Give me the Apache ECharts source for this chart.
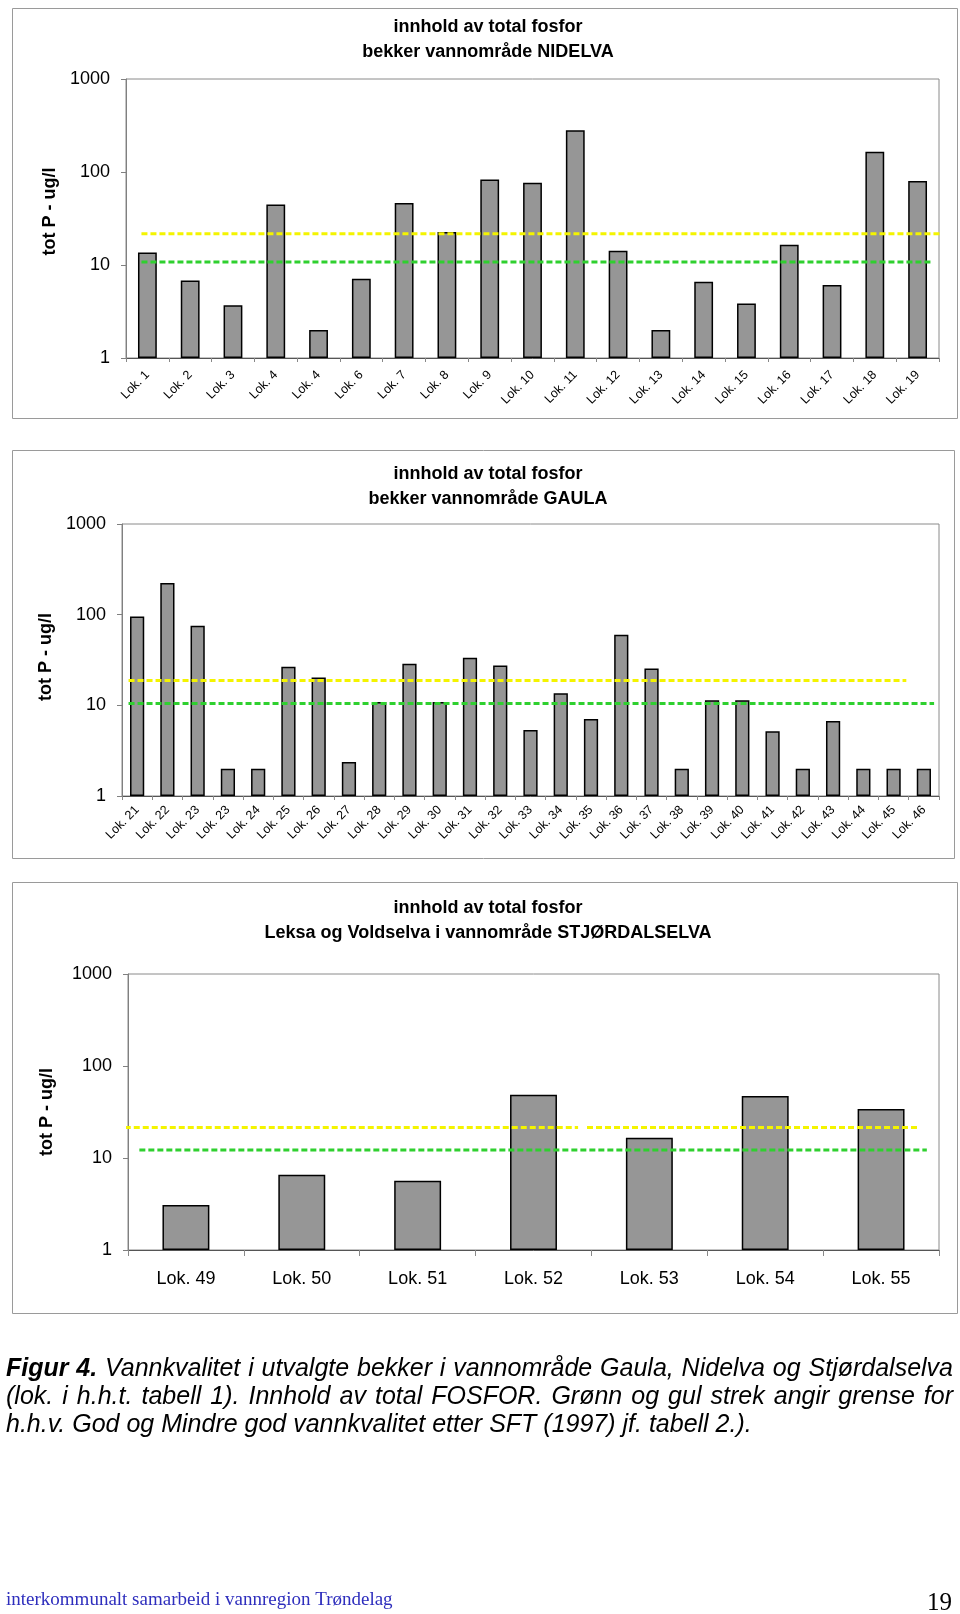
<!DOCTYPE html>
<html><head><meta charset="utf-8">
<script src="https://cdn.jsdelivr.net/npm/echarts@6/dist/echarts.min.js"></script>
<style>html,body{margin:0;padding:0;background:#fff}#c{width:960px;height:1614px}</style>
</head><body><div id="c"></div>
<script>
// ---------- data ----------
const nidCats = ['Lok. 1','Lok. 2','Lok. 3','Lok. 4','Lok. 4','Lok. 6','Lok. 7','Lok. 8','Lok. 9','Lok. 10','Lok. 11','Lok. 12','Lok. 13','Lok. 14','Lok. 15','Lok. 16','Lok. 17','Lok. 18','Lok. 19'];
const nidVals = [13.6, 6.8, 3.7, 44.7, 2.0, 7.1, 46.5, 22.6, 83, 76.5, 282, 14.2, 2.0, 6.6, 3.85, 16.5, 6.1, 165, 80];

const gauCats = ['Lok. 21','Lok. 22','Lok. 23','Lok. 23','Lok. 24','Lok. 25','Lok. 26','Lok. 27','Lok. 28','Lok. 29','Lok. 30','Lok. 31','Lok. 32','Lok. 33','Lok. 34','Lok. 35','Lok. 36','Lok. 37','Lok. 38','Lok. 39','Lok. 40','Lok. 41','Lok. 42','Lok. 43','Lok. 44','Lok. 45','Lok. 46'];
const gauVals = [95.5, 223, 75.4, 2, 2, 26.6, 20.3, 2.37, 10.9, 28.7, 10.9, 33.4, 27.5, 5.35, 13.6, 7.08, 60, 25.5, 2, 11.4, 11.4, 5.18, 2, 6.73, 2, 2, 2];

const stjCats = ['Lok. 49','Lok. 50','Lok. 51','Lok. 52','Lok. 53','Lok. 54','Lok. 55'];
const stjVals = [3.09, 6.56, 5.65, 48.8, 16.6, 47.2, 34.1];

const yTickLabels = ['1', '10', '100', '1000'];
const goodLimit = [10.8, 10.5, 12.2];      // green: God
const lessGoodLimit = [21.7, 18.8, 21.5];  // yellow: Mindre god

const titles = [
  'innhold av total fosfor\nbekker vannområde NIDELVA',
  'innhold av total fosfor\nbekker vannområde GAULA',
  'innhold av total fosfor\nLeksa og Voldselva i vannområde STJØRDALSELVA'
];
const yName = 'tot P - ug/l';

const captionLines = [
  [{t:'Figur', b:true}, {t:'4.', b:true}, 'Vannkvalitet','i','utvalgte','bekker','i','vannområde','Gaula,','Nidelva','og','Stjørdalselva'],
  '(lok. i h.h.t. tabell 1). Innhold av total FOSFOR. Grønn og gul strek angir grense for'.split(' '),
  'h.h.v. God og Mindre god vannkvalitet etter SFT (1997) jf. tabell 2.).'.split(' ')
];
const footerText = 'interkommunalt samarbeid i vannregion Trøndelag';
const pageNo = '19';

// ---------- layout ----------
const FONT = '"Liberation Sans", Arial, sans-serif';
const panels = [
  {cats: nidCats, vals: nidVals, grid:{left:126, top:79, width:813, height:279}, gap:'56%', rot:45, lfs:12.5, lm:15, tick:4,
   titleTop:10, box:[12,8,945,410], nameGap:67, namePad:[0,0,0,14],
   green:[0.019,0.992], yellow:[[0.019,1.008]]},
  {cats: gauCats, vals: gauVals, grid:{left:122, top:524, width:817, height:272}, gap:'53%', rot:45, lfs:12.5, lm:12, tick:4,
   titleTop:457, box:[12,450,942,408], nameGap:66, namePad:[0,0,0,6],
   green:[0.008,0.994], yellow:[[0.008,0.96]]},
  {cats: stjCats, vals: stjVals, grid:{left:128, top:974, width:811, height:276}, gap:'59.5%', rot:0, lfs:18, lm:20, tick:6,
   titleTop:891, box:[12,882,945,431], nameGap:72, namePad:[0,0,0,0],
   green:[0.014,0.985], yellow:[[-0.004,0.555],[0.566,0.974]]}
];

const grid=[], xAxis=[], yAxis=[], series=[], title=[], graphic=[];
panels.forEach((p,i)=>{
  graphic.push({type:'rect', shape:{x:p.box[0]+0.5, y:p.box[1]+0.5, width:p.box[2], height:p.box[3]},
    style:{fill:'none', stroke:'#9a9a9a', lineWidth:1}, z:-10});
  grid.push(Object.assign({show:true, borderColor:'#8a8a8a', borderWidth:1, backgroundColor:'#fff'}, p.grid));
  title.push({text: titles[i], left: 483, textAlign:'center', top: p.titleTop,
    textStyle:{fontFamily:FONT, fontSize:18, fontWeight:'bold', color:'#000', lineHeight:25}});
  xAxis.push({type:'category', gridIndex:i, data:p.cats,
    axisLine:{show:true, lineStyle:{color:'#555', width:1}},
    axisTick:{show:true, length:p.tick, lineStyle:{color:'#888'}},
    axisLabel:{rotate:p.rot, fontFamily:FONT, fontSize:p.lfs, color:'#000', margin:p.lm, interval:0},
    splitLine:{show:false}});
  xAxis.push({type:'value', gridIndex:i, min:0, max:1, show:false});
  yAxis.push({type:'log', gridIndex:i, logBase:10, min:1, max:1000,
    name:yName, nameLocation:'middle', nameGap:p.nameGap, nameRotate:90,
    nameTextStyle:{fontFamily:FONT, fontSize:18, fontWeight:'bold', color:'#000', padding:p.namePad},
    axisLine:{show:true, lineStyle:{color:'#808080'}},
    axisTick:{show:true, length:5, lineStyle:{color:'#808080'}},
    axisLabel:{fontFamily:FONT, fontSize:18, color:'#000', margin:16,
      formatter:(v)=>{const k=Math.round(Math.log10(v)); return yTickLabels[k];}},
    splitLine:{show:false}});
  series.push({type:'bar', xAxisIndex:2*i, yAxisIndex:i, data:p.vals, barCategoryGap:p.gap,
    itemStyle:{color:'#969696', borderColor:'#000', borderWidth:1.5}, silent:true, z:2});
  const dash = {width:3, type:[6,3]};
  series.push({type:'line', xAxisIndex:2*i+1, yAxisIndex:i, symbol:'none', clip:false, silent:true, z:4,
    data:[[p.green[0], goodLimit[i]],[p.green[1], goodLimit[i]]],
    lineStyle:Object.assign({color:'#2fd02f'}, dash)});
  p.yellow.forEach(seg=>{
    series.push({type:'line', xAxisIndex:2*i+1, yAxisIndex:i, symbol:'none', clip:false, silent:true, z:4,
      data:[[seg[0], lessGoodLimit[i]],[seg[1], lessGoodLimit[i]]],
      lineStyle:Object.assign({color:'#f4f400'}, dash)});
  });
});

// caption (justified first two lines)
const ctx = document.createElement('canvas').getContext('2d');
const capY = [1369, 1397, 1425];
const capLeft = 6, capRight = 953, capSize = 25;
captionLines.forEach((words, li)=>{
  const items = words.map(w=> typeof w === 'string' ? {t:w, b:false} : w);
  const fonts = items.map(w=> `italic ${w.b?'bold ':''}${capSize}px "Liberation Sans"`);
  const widths = items.map((w,k)=>{ctx.font = fonts[k]; return ctx.measureText(w.t).width;});
  ctx.font = `italic ${capSize}px "Liberation Sans"`;
  const sp = ctx.measureText(' ').width;
  const total = widths.reduce((a,b)=>a+b,0);
  let gap = li < 2 ? (capRight - capLeft - total) / (items.length - 1) : sp;
  if (gap < 2) gap = 2;
  let x = capLeft;
  items.forEach((w,k)=>{
    graphic.push({type:'text', x:x, y:capY[li], silent:true,
      style:{text:w.t, font:fonts[k], fill:'#000', verticalAlign:'middle', textVerticalAlign:'middle'}});
    x += widths[k] + gap;
  });
});
graphic.push({type:'text', x:6, y:1600, silent:true,
  style:{text:footerText, font:'19px "Liberation Serif", "Times New Roman", serif', fill:'#2e2ebd', verticalAlign:'middle', textVerticalAlign:'middle'}});
graphic.push({type:'text', x:952, y:1603, silent:true,
  style:{text:pageNo, font:'25px "Liberation Serif", "Times New Roman", serif', fill:'#000', align:'right', textAlign:'right', verticalAlign:'middle', textVerticalAlign:'middle'}});

const chart = echarts.init(document.getElementById('c'), null, {renderer:'canvas'});
chart.setOption({backgroundColor:'#fff', animation:false, title, grid, xAxis, yAxis, series, graphic});
</script></body></html>
